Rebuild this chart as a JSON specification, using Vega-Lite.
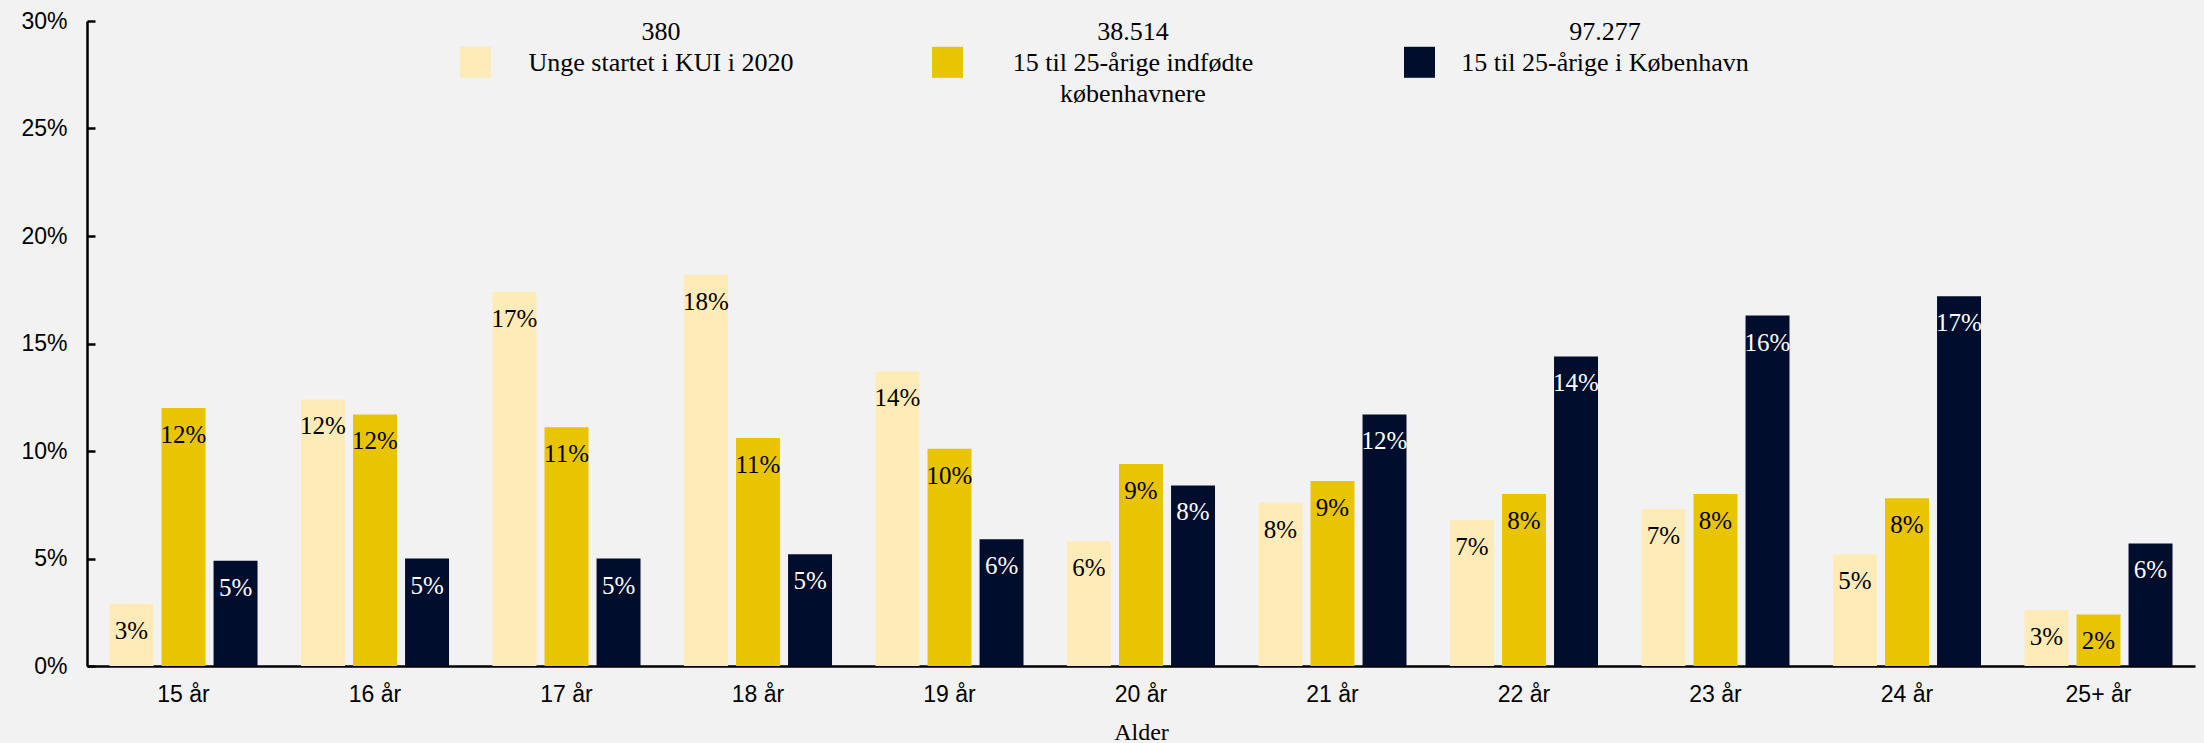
{
  "$schema": "https://vega.github.io/schema/vega-lite/v6.json",
  "width": 2108,
  "height": 645,
  "autosize": {"type": "none"},
  "padding": {"left": 87, "top": 21, "right": 9, "bottom": 77},
  "background": "#F2F2F2",
  "config": {"view": {"stroke": null}, "style": {"guide-label": {"lineHeight": 31}}},
  "data": {"values": [
    {"alder": "15 år", "serie": "KUI", "andel": 0.029},
    {"alder": "15 år", "serie": "Ind", "andel": 0.120},
    {"alder": "15 år", "serie": "Kbh", "andel": 0.049},
    {"alder": "16  år", "serie": "KUI", "andel": 0.124},
    {"alder": "16  år", "serie": "Ind", "andel": 0.117},
    {"alder": "16  år", "serie": "Kbh", "andel": 0.050},
    {"alder": "17 år", "serie": "KUI", "andel": 0.174},
    {"alder": "17 år", "serie": "Ind", "andel": 0.111},
    {"alder": "17 år", "serie": "Kbh", "andel": 0.050},
    {"alder": "18 år", "serie": "KUI", "andel": 0.182},
    {"alder": "18 år", "serie": "Ind", "andel": 0.106},
    {"alder": "18 år", "serie": "Kbh", "andel": 0.052},
    {"alder": "19  år", "serie": "KUI", "andel": 0.137},
    {"alder": "19  år", "serie": "Ind", "andel": 0.101},
    {"alder": "19  år", "serie": "Kbh", "andel": 0.059},
    {"alder": "20  år", "serie": "KUI", "andel": 0.058},
    {"alder": "20  år", "serie": "Ind", "andel": 0.094},
    {"alder": "20  år", "serie": "Kbh", "andel": 0.084},
    {"alder": "21  år", "serie": "KUI", "andel": 0.076},
    {"alder": "21  år", "serie": "Ind", "andel": 0.086},
    {"alder": "21  år", "serie": "Kbh", "andel": 0.117},
    {"alder": "22  år", "serie": "KUI", "andel": 0.068},
    {"alder": "22  år", "serie": "Ind", "andel": 0.080},
    {"alder": "22  år", "serie": "Kbh", "andel": 0.144},
    {"alder": "23  år", "serie": "KUI", "andel": 0.073},
    {"alder": "23  år", "serie": "Ind", "andel": 0.080},
    {"alder": "23  år", "serie": "Kbh", "andel": 0.163},
    {"alder": "24  år", "serie": "KUI", "andel": 0.052},
    {"alder": "24  år", "serie": "Ind", "andel": 0.078},
    {"alder": "24  år", "serie": "Kbh", "andel": 0.172},
    {"alder": "25+  år", "serie": "KUI", "andel": 0.026},
    {"alder": "25+  år", "serie": "Ind", "andel": 0.024},
    {"alder": "25+  år", "serie": "Kbh", "andel": 0.057}
  ]},
  "encoding": {
    "x": {
      "field": "alder", "type": "nominal",
      "sort": ["15 år", "16  år", "17 år", "18 år", "19  år", "20  år", "21  år", "22  år", "23  år", "24  år", "25+  år"],
      "scale": {"paddingInner": 0.227, "paddingOuter": 0.1175},
      "axis": {
        "title": "Alder", "titleFont": "Liberation Serif", "titleFontSize": 24, "titleFontWeight": "normal", "titleColor": "black", "titlePadding": 14,
        "labelFont": "Liberation Sans", "labelFontSize": 23, "labelColor": "black", "labelAngle": 0, "labelPadding": 17,
        "ticks": false, "domainColor": "black", "domainWidth": 2.5
      }
    },
    "xOffset": {"field": "serie", "type": "nominal", "sort": ["KUI", "Ind", "Kbh"], "scale": {"paddingInner": 0.155, "paddingOuter": 0}},
    "y": {
      "field": "andel", "type": "quantitative",
      "scale": {"domain": [0, 0.3], "nice": false},
      "axis": {
        "title": null, "format": ".0%", "values": [0, 0.05, 0.1, 0.15, 0.2, 0.25, 0.3],
        "labelFont": "Liberation Sans", "labelFontSize": 23, "labelColor": "black",
        "tickSize": -8, "tickColor": "black", "tickWidth": 2.5, "labelPadding": 28,
        "domainColor": "black", "domainWidth": 2.5, "grid": false
      }
    }
  },
  "layer": [
    {
      "mark": {"type": "bar"},
      "encoding": {
        "color": {
          "field": "serie", "type": "nominal",
          "scale": {"domain": ["KUI", "Ind", "Kbh"], "range": ["#FEEBB7", "#E9C400", "#000D2D"]},
          "legend": {
            "orient": "none", "legendX": 373, "legendY": -5, "direction": "horizontal", "columns": 3, "gridAlign": "all", "columnPadding": 127,
            "title": null, "padding": 0,
            "symbolType": "M-1,0.97H1V2.97H-1Z", "symbolSize": 961, "symbolStrokeWidth": 0, "symbolOpacity": 1,
            "labelFont": "Liberation Serif", "labelFontSize": 26, "labelColor": "black", "labelAlign": "center", "labelBaseline": "middle",
            "labelOffset": 170, "labelLimit": 600,
            "labelExpr": "datum.label === 'KUI' ? ['380', 'Unge startet i KUI i 2020', ''] : datum.label === 'Ind' ? ['38.514', '15 til 25-årige indfødte', 'københavnere'] : ['97.277', '15 til 25-årige i København', '']"
          }
        }
      }
    },
    {
      "mark": {"type": "text", "dy": 27, "baseline": "middle", "font": "Liberation Serif", "fontSize": 25},
      "encoding": {
        "text": {"field": "andel", "type": "quantitative", "format": ".0%"},
        "color": {"condition": {"test": "datum.serie === 'Kbh'", "value": "white"}, "value": "black"}
      }
    }
  ]
}
